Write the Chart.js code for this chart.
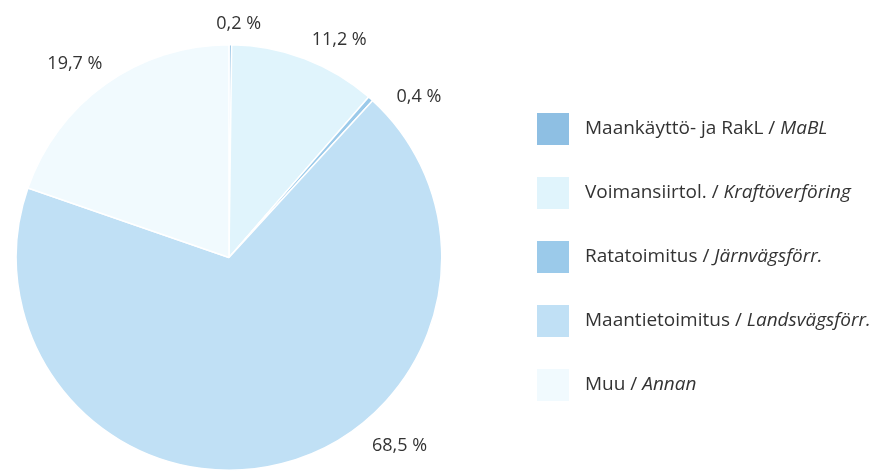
<!DOCTYPE html>
<html>
<head>
<meta charset="utf-8">
<script src="https://cdn.jsdelivr.net/npm/chart.js@4"></script>
<style>
html,body{margin:0;padding:0;background:#fff;}
#wrap{position:relative;width:877px;height:471px;}
</style>
</head>
<body>
<div id="wrap"><canvas id="c" width="877" height="471"></canvas></div>
<script>
// Data
const categoriesFi = ["Maankäyttö- ja RakL", "Voimansiirtol.", "Ratatoimitus", "Maantietoimitus", "Muu"];
const categoriesSv = ["MaBL", "Kraftöverföring", "Järnvägsförr.", "Landsvägsförr.", "Annan"];
const shares = [0.2, 11.2, 0.4, 68.5, 19.7];
const shareLabels = ["0,2 %", "11,2 %", "0,4 %", "68,5 %", "19,7 %"];

// Styles
const sliceColors = ["#8ebfe3", "#e0f4fc", "#9bcaea", "#c0e0f5", "#f1fafe"];
const FONT = "'Open Sans', 'Noto Sans', sans-serif";
const TEXT = "#333333";

// label placement relative to each arc: angle offset (deg), extra radius (px)
const labelTweak = [[2, 21], [6, 31], [8, 36], [-28, 41], [-3, 35]];

const pctLabels = {
  id: 'pctLabels',
  afterDatasetsDraw(chart) {
    const ctx = chart.ctx;
    const meta = chart.getDatasetMeta(0);
    ctx.save();
    ctx.font = "18px " + FONT;
    ctx.fillStyle = TEXT;
    ctx.textAlign = 'center';
    ctx.textBaseline = 'middle';
    meta.data.forEach((arc, i) => {
      const p = arc.getProps(['x','y','startAngle','endAngle','outerRadius'], true);
      const a = (p.startAngle + p.endAngle) / 2 + labelTweak[i][0] * Math.PI / 180;
      const r = p.outerRadius + labelTweak[i][1];
      ctx.fillText(shareLabels[i], p.x + Math.cos(a) * r, p.y + Math.sin(a) * r);
    });
    ctx.restore();
  }
};

const sideLegend = {
  id: 'sideLegend',
  afterDraw(chart) {
    const ctx = chart.ctx;
    const x0 = 537, size = 32, y0 = 129, step = 64, tx = 585;
    ctx.save();
    ctx.textBaseline = 'middle';
    categoriesFi.forEach((name, i) => {
      const cy = y0 + i * step;
      ctx.fillStyle = sliceColors[i];
      ctx.fillRect(x0, cy - size / 2, size, size);
      ctx.fillStyle = TEXT;
      ctx.font = "19px " + FONT;
      const first = name + " / ";
      ctx.fillText(first, tx, cy);
      const w = ctx.measureText(first).width;
      ctx.font = "italic 19px " + FONT;
      ctx.fillText(categoriesSv[i], tx + w, cy);
    });
    ctx.restore();
  }
};

new Chart(document.getElementById('c'), {
  type: 'pie',
  data: {
    labels: categoriesFi.map((f, i) => f + " / " + categoriesSv[i]),
    datasets: [{
      data: shares,
      backgroundColor: sliceColors,
      borderColor: '#ffffff',
      borderWidth: 1.5
    }]
  },
  options: {
    responsive: false,
    animation: false,
    layout: { padding: { left: 15, right: 434, top: 44, bottom: 0 } },
    plugins: {
      legend: { display: false },
      tooltip: { enabled: false }
    }
  },
  plugins: [pctLabels, sideLegend]
});
</script>
</body>
</html>
